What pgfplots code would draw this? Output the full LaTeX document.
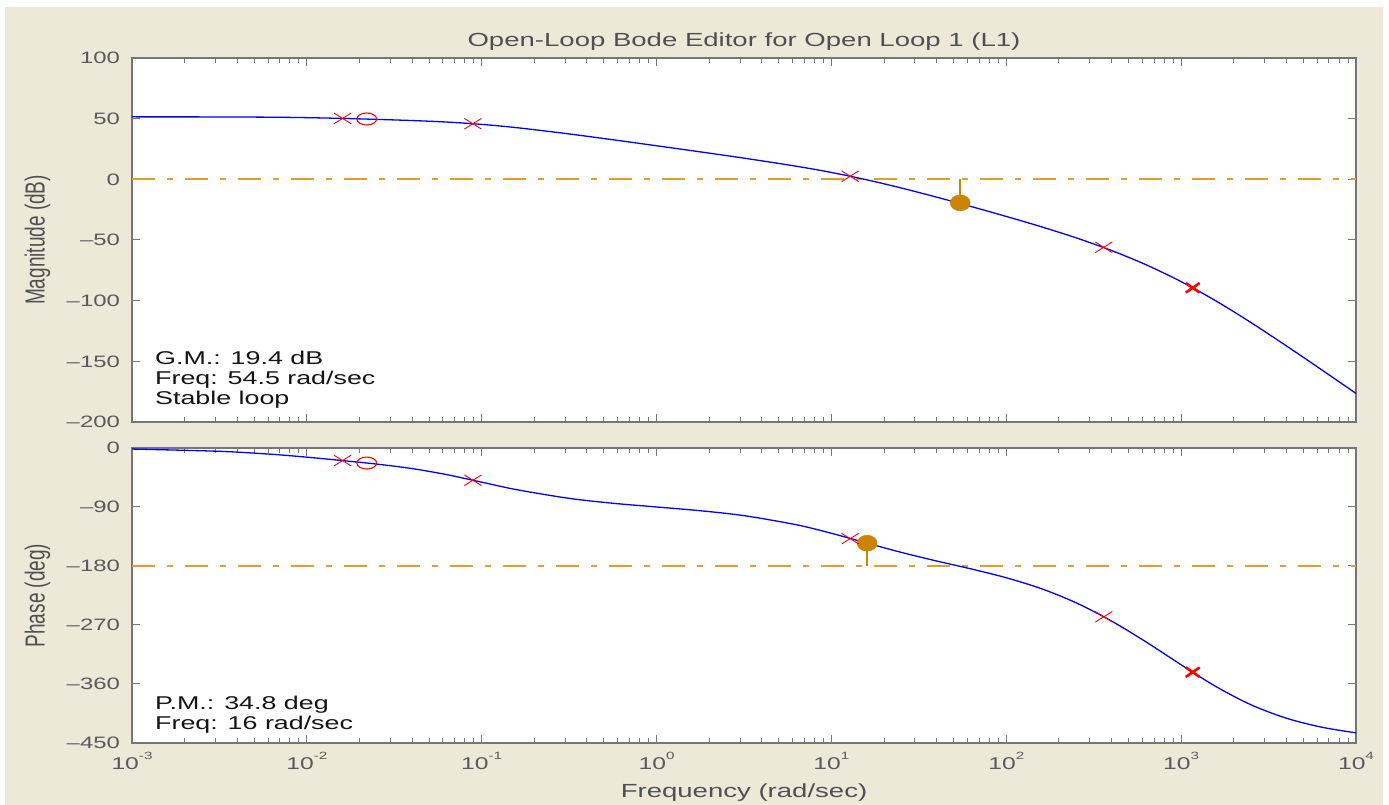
\documentclass[border=0pt]{standalone}
\usepackage{pgfplots}
\usepackage{pgfplotstable}
\pgfplotsset{compat=1.18}
\usepackage{fontspec}
\setmainfont{Liberation Sans}[FakeStretch=1.45]
\newfontfamily\rotfont{Liberation Sans}

\definecolor{bg}{RGB}{236,233,216}
\definecolor{axgray}{RGB}{118,118,118}
\definecolor{tickgray}{RGB}{90,90,90}
\definecolor{titlegray}{RGB}{80,80,80}
\definecolor{anncol}{RGB}{20,20,20}
\definecolor{orng}{RGB}{204,132,0}
\definecolor{dorng}{RGB}{228,158,40}

\pgfplotstableread{
w mag phase
0.001 51.49 -1.61
0.003162 51.42 -5.04
0.00631 51.19 -9.61
0.01 50.83 -14.00
0.01585 50.21 -19.11
0.02512 49.40 -24.56
0.03981 48.45 -31.32
0.0631 47.20 -40.62
0.1 45.28 -52.15
0.1585 42.57 -63.59
0.3162 37.40 -76.84
0.5623 32.61 -84.30
1 27.66 -89.98
1.778 22.63 -95.70
3.162 17.46 -103.19
6.31 10.77 -117.11
10 5.65 -130.11
15.85 -0.33 -144.86
25.12 -7.17 -159.26
39.81 -14.63 -172.28
63.1 -22.47 -184.57
100 -30.60 -197.96
158.5 -39.09 -214.54
251.2 -48.26 -236.22
398.1 -58.56 -263.69
631 -70.45 -295.95
1000 -84.32 -330.72
1585 -100.31 -364.09
2512 -118.12 -391.80
3981 -137.09 -412.03
6310 -156.64 -425.70
10000 -176.46 -434.58
}\bodedata

\pgfplotstableread{
w mag phase
0.016 50.2 -19.2
0.089 45.8 -49.2
12.8 2.5 -138.3
361 -56.0 -257.5
}\poles

\newcommand\sxp[1]{\raisebox{9.5pt}{\fontsize{10.5}{10.5}\selectfont #1}}

\pgfplotsset{
  bodeax/.style={
    scale only axis, width=1224pt,
    xmin=1e-3, xmax=1e4,
    xtick={1e-3,1e-2,1e-1,1,10,100,1000,10000},
    minor xtick={0.002,0.003,0.004,0.005,0.006,0.007,0.008,0.009,
      0.02,0.03,0.04,0.05,0.06,0.07,0.08,0.09,
      0.2,0.3,0.4,0.5,0.6,0.7,0.8,0.9,
      2,3,4,5,6,7,8,9,20,30,40,50,60,70,80,90,
      200,300,400,500,600,700,800,900,
      2000,3000,4000,5000,6000,7000,8000,9000},
    tick pos=both, tick align=inside, ticklabel pos=left,
    major tick length=8pt, minor tick length=5pt,
    axis line style={axgray, line width=1.8pt},
    tick style={axgray, line width=1pt},
    axis background/.style={fill=white},
    yticklabel style={font=\fontsize{16.5}{16.5}\selectfont, text=tickgray, xshift=-8.5pt},
    xticklabel style={font=\fontsize{17}{17}\selectfont, text=tickgray, yshift=-6pt},
  },
  refline/.style={dorng, line width=1.7pt, dash pattern=on 23pt off 12pt on 6pt off 12pt},
  bodecurve/.style={blue, line width=1.3pt, smooth},
  gmstem/.style={orng, line width=2pt},
  gmdot/.style={only marks, mark=*, orng, mark size=8pt, mark options={xscale=1.25, draw=orng, fill=orng}},
  polemark/.style={only marks, red, mark=x, mark size=7.5pt, mark options={xscale=1.6, line width=0.9pt}},
  zeromark/.style={only marks, red, mark=o, mark size=6pt, mark options={xscale=1.65, line width=1.1pt}},
  bpolemark/.style={only marks, red, mark=x, mark size=6.8pt, mark options={xscale=1.45, line width=2.6pt}},
}

\begin{document}
\begin{tikzpicture}
\fill[white] (0,0) rectangle (1389pt,805pt);
\fill[bg] (5pt,0) rectangle (1383pt,798pt);

% Magnitude
\begin{semilogxaxis}[bodeax, at={(132pt,383pt)}, anchor=south west, height=364pt,
  ymin=-200, ymax=100, ytick={-200,-150,-100,-50,0,50,100},
  yticklabels={\textendash200,\textendash150,\textendash100,\textendash50,0,50,100},
  xticklabels={}]
\addplot[refline] coordinates {(1e-3,0) (1e4,0)};
\addplot[bodecurve] table[x=w,y=mag]{\bodedata};
\addplot[gmstem] coordinates {(54.5,0) (54.5,-19.4)};
\addplot[gmdot] coordinates {(54.5,-19.4)};
\addplot[polemark] table[x=w,y=mag]{\poles};
\addplot[zeromark] coordinates {(0.022,49.7)};
\addplot[bpolemark] coordinates {(1165,-89.4)};
\end{semilogxaxis}

% Phase
\begin{semilogxaxis}[bodeax, at={(132pt,62pt)}, anchor=south west, height=295pt,
  ymin=-450, ymax=0, ytick={-450,-360,-270,-180,-90,0},
  yticklabels={\textendash450,\textendash360,\textendash270,\textendash180,\textendash90,0},
  xticklabels={10\sxp{-3},10\sxp{-2},10\sxp{-1},10\sxp{0},10\sxp{1},10\sxp{2},10\sxp{3},10\sxp{4}}]
\addplot[refline] coordinates {(1e-3,-180) (1e4,-180)};
\addplot[bodecurve] table[x=w,y=phase]{\bodedata};
\addplot[gmstem] coordinates {(16,-180) (16,-145.2)};
\addplot[gmdot] coordinates {(16,-145.2)};
\addplot[polemark] table[x=w,y=phase]{\poles};
\addplot[zeromark] coordinates {(0.022,-23.0)};
\addplot[bpolemark] coordinates {(1165,-342.0)};
\end{semilogxaxis}

% Title and labels
\node[anchor=base, text=titlegray, font=\fontsize{19}{19}\selectfont] at (744pt,758.5pt) {Open-Loop Bode Editor for Open Loop 1 (L1)};
\node[anchor=base, text=titlegray, font=\fontsize{19}{19}\selectfont] at (744pt,7pt) {Frequency (rad/sec)};
\node[rotate=90, anchor=base, text=titlegray, font=\rotfont\fontsize{19}{19}\selectfont] at (44.5pt,565pt) {\scalebox{1}[1.45]{Magnitude (dB)}};
\node[rotate=90, anchor=base, text=titlegray, font=\rotfont\fontsize{19}{19}\selectfont] at (44.5pt,209.5pt) {\scalebox{1}[1.45]{Phase (deg)}};

% Annotations
\begin{scope}[every node/.style={anchor=base west, inner sep=0pt, text=anncol, font=\fontsize{18.5}{18.5}\selectfont}]
\node at (155pt,440pt) {G.M.: 19.4 dB};
\node at (155pt,420pt) {Freq: 54.5 rad/sec};
\node at (155pt,400pt) {Stable loop};
\node at (155pt,95pt) {P.M.: 34.8 deg};
\node at (155pt,75pt) {Freq: 16 rad/sec};
\end{scope}

\pgfresetboundingbox
\useasboundingbox (0,0) rectangle (1389pt,805pt);
\end{tikzpicture}
\end{document}
